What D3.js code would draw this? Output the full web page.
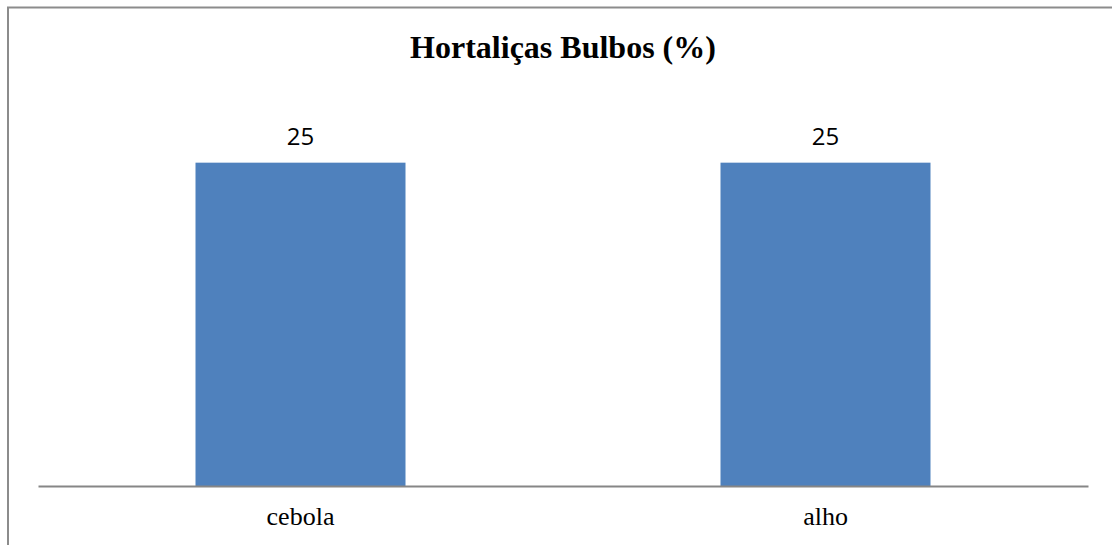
<!DOCTYPE html>
<html>
<head>
<meta charset="utf-8">
<script src="https://cdn.jsdelivr.net/npm/d3@7"></script>
<style>
  body { margin: 0; background: #fff; }
  svg { display: block; }
</style>
</head>
<body>
<div id="chart"></div>
<script>
// chart values
const categories = ["cebola", "alho"];
const values = [25, 25];
const chartTitle = "Hortaliças Bulbos (%)";

let width = 1112, height = 545;
let margin = { top: 98, right: 24, bottom: 59, left: 38 };

let svg = d3.select("#chart").append("svg")
    .attr("width", width)
    .attr("height", height);

// outer chart border (runs off the right and bottom edge)
svg.append("rect")
    .attr("x", 8).attr("y", 7.5)
    .attr("width", width + 20).attr("height", height + 20)
    .attr("fill", "none")
    .attr("stroke", "#8c8c8c")
    .attr("stroke-width", 2);

let x = d3.scaleBand()
    .domain(categories)
    .range([margin.left, width - margin.right])
    .paddingInner(0.6)
    .paddingOuter(0.3);

let y = d3.scaleLinear()
    .domain([0, 30])
    .range([height - margin.bottom, margin.top]);

svg.append("text")
    .attr("x", 563).attr("y", 58)
    .attr("text-anchor", "middle")
    .style("font-family", "'Liberation Serif', 'Times New Roman', serif")
    .style("font-weight", "bold")
    .style("font-size", "32px")
    .text(chartTitle);

let data = categories.map((c, i) => ({ key: c, value: values[i] }));

svg.selectAll("rect.bar")
    .data(data)
    .enter().append("rect")
    .attr("class", "bar")
    .attr("x", (d) => x(d.key))
    .attr("y", (d) => y(d.value))
    .attr("width", x.bandwidth())
    .attr("height", (d) => y(0) - y(d.value))
    .attr("fill", "#4f81bd");

svg.selectAll("text.val")
    .data(data)
    .enter().append("text")
    .attr("class", "val")
    .attr("x", (d) => x(d.key) + x.bandwidth() / 2)
    .attr("y", (d) => y(d.value) - 18)
    .attr("text-anchor", "middle")
    .style("font-family", "'Liberation Sans Narrow', 'Open Sans', sans-serif")
    .style("font-size", "24px")
    .text((d) => d.value);

let xAxis = d3.axisBottom(x).tickSize(0).tickPadding(21);

let gx = svg.append("g")
    .attr("transform", `translate(0,${y(0)})`)
    .call(xAxis);

gx.select(".domain")
    .attr("stroke", "#868686")
    .attr("stroke-width", 2);

gx.selectAll("text")
    .style("font-family", "'Liberation Serif', 'Times New Roman', serif")
    .style("font-size", "26px")
    .attr("fill", "#000");
</script>
</body>
</html>
